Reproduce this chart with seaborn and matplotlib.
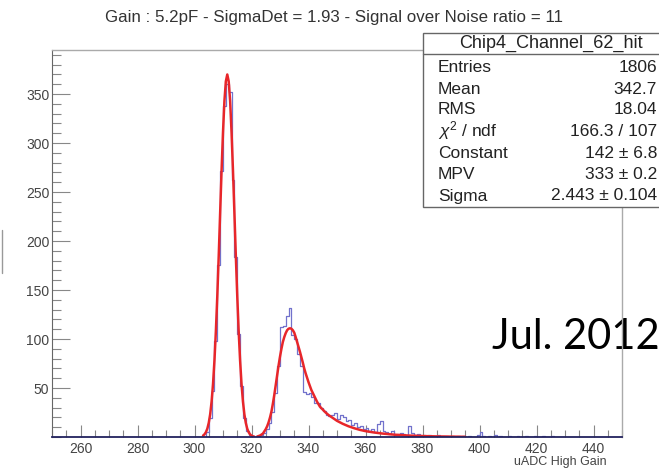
import numpy as np
import pandas as pd
import matplotlib
matplotlib.use("Agg")
import matplotlib.pyplot as plt
import seaborn as sns
from matplotlib.patches import Rectangle
from matplotlib.lines import Line2D
from matplotlib.ticker import MultipleLocator

# histogram contents, one bin per ADC count starting at 300
bin_start = 300
counts = [
    0, 0, 0, 0, 5, 19, 47, 98, 176, 271,          # 300-309
    338, 360, 352, 262, 184, 105, 52, 19, 6, 2,    # 310-319
    1, 0, 1, 2, 4, 8, 14, 26, 45, 72,              # 320-329
    112, 113, 123, 132, 104, 100, 85, 72, 46, 44,  # 330-339
    45, 41, 35, 35, 30, 27, 22, 21, 22, 24,        # 340-349
    18, 22, 20, 16, 17, 12, 14, 10, 11, 8,         # 350-359
    9, 6, 8, 5, 13, 16, 6, 5, 3, 6,                # 360-369
    2, 3, 4, 3, 2, 11, 4, 2, 3, 1,                 # 370-379
    2, 1, 2, 1, 1, 2, 0, 1, 1, 0,                  # 380-389
    1, 0, 1, 0, 1, 0, 1, 0, 0, 2,                  # 390-399
    5, 1, 0, 1, 0, 2, 0, 1, 0, 0,                  # 400-409
    1, 0, 0, 1, 0, 0, 1, 0, 0, 1,                  # 410-419
    0, 0, 1, 0, 0, 1, 0, 0, 0, 0,                  # 420-429
]

# pedestal gaussian fit
gaus_x = [303, 303.5, 304, 304.5, 305, 305.5, 306, 306.5, 307, 307.5, 308, 308.5,
          309, 309.5, 310, 310.5, 311, 311.5, 312, 312.5, 313, 313.5, 314, 314.5,
          315, 315.5, 316, 316.5, 317, 317.5, 318, 318.5, 319, 319.5, 320, 320.5, 321]
gaus_y = [1.4, 2.7, 4.9, 8.5, 14.4, 23.2, 36.2, 54.1, 78, 108, 144, 185,
          229, 272, 311, 343, 363, 370, 363, 343, 311, 272, 229, 185,
          144, 108, 78, 54.1, 36.2, 23.2, 14.4, 8.5, 4.9, 2.7, 1.4, 0.7, 0.3]

# landau fit of the signal peak
landau_x = [322, 323, 324, 325, 325.5, 326, 326.5, 327, 327.5, 328, 328.5, 329, 329.5,
            330, 330.5, 331, 331.5, 332, 332.5, 333, 333.5, 334, 334.5, 335, 335.5,
            336, 337, 338, 338.5, 339, 340, 341, 342, 343, 344, 345, 346, 347, 348,
            350, 352, 354, 356, 358, 360, 363, 366, 370, 375, 380, 385, 390, 395]
landau_y = [0.5, 1.5, 3.5, 8, 11, 15, 20, 26, 34, 43, 53, 63, 73,
            82, 90, 97, 102, 106, 109, 110.5, 111, 110.5, 109, 106.5, 102,
            97, 87, 76, 70, 65, 56, 48, 42, 36, 31, 28, 25, 22.5, 20.5,
            16.5, 13.5, 11, 9, 7.3, 6, 4.6, 3.5, 2.4, 1.5, 1.0, 0.6, 0.4, 0.2]

title = "Gain : 5.2pF - SigmaDet = 1.93 - Signal over Noise ratio = 11"
stats_name = "Chip4_Channel_62_hit"
stats_labels = ["Entries", "Mean", "RMS", r"$\chi^2$ / ndf", "Constant", "MPV", "Sigma"]
stats_values = ["1806", "342.7", "18.04", "166.3 / 107", "142 ± 6.8", "333 ± 0.2", "2.443 ± 0.104"]

hist_df = pd.DataFrame({
    'adc': np.arange(bin_start, bin_start + len(counts)) + 0.5,
    'n': counts,
})

sns.set_style("ticks")
plt.rcParams['font.family'] = ['Liberation Sans', 'DejaVu Sans']
plt.rcParams['mathtext.fontset'] = 'custom'
plt.rcParams['mathtext.it'] = 'Liberation Sans:italic'
plt.rcParams['mathtext.rm'] = 'Liberation Sans'

W, H = 659, 469
fig = plt.figure(figsize=(W / 100, H / 100), dpi=100)
fig.patch.set_facecolor('white')
ax = fig.add_axes([52 / W, 1 - 437 / H, 570 / W, 387 / H])
ax.patch.set_alpha(0)

sns.histplot(data=hist_df, x='adc', weights='n', binwidth=1,
             binrange=(bin_start, bin_start + len(counts)), element='step', fill=False,
             color='#7272cc', linewidth=0.9, ax=ax)
sns.lineplot(x=gaus_x, y=gaus_y, color='#e8262a', linewidth=1.8, ax=ax)
sns.lineplot(x=landau_x, y=landau_y, color='#e8262a', linewidth=1.8, ax=ax)

ax.set_xlim(250, 450)
ax.set_ylim(0, 395)
ax.set_xticks(range(260, 441, 20))
ax.set_yticks(range(50, 351, 50))
ax.xaxis.set_minor_locator(MultipleLocator(5))
ax.yaxis.set_minor_locator(MultipleLocator(10))
ax.set_xlabel('')
ax.set_ylabel('')

ax.tick_params(axis='both', which='both', direction='in', colors='#888888',
               labelcolor='#444444', labelsize=10)
ax.tick_params(axis='y', which='major', length=13, width=0.8, pad=2)
ax.tick_params(axis='y', which='minor', length=6.5, width=0.8)
ax.tick_params(axis='x', which='major', length=8.5, width=0.8, pad=3.5)
ax.tick_params(axis='x', which='minor', length=5, width=0.8)

for side in ['top', 'right']:
    ax.spines[side].set_visible(True)
    ax.spines[side].set_color('#aaaaaa')
    ax.spines[side].set_linewidth(1)
ax.spines['left'].set_color('#666666')
ax.spines['bottom'].set_color('#22225e')
ax.spines['bottom'].set_linewidth(1.3)

fig.text(334 / W, 1 - 17.5 / H, title, ha='center', va='center', fontsize=12.2, color='#333333')
fig.text(607 / W, 1 - 462 / H, 'uADC High Gain', ha='right', va='center', fontsize=9, color='#444444')

# small grey bracket at the left edge
fig.add_artist(Line2D([1.5 / W, 1.5 / W], [1 - 230 / H, 1 - 273 / H], transform=fig.transFigure,
                      color='#999999', linewidth=1))

# stats box
box = Rectangle((423 / W, 1 - 207 / H), 300 / W, 174 / H, transform=fig.transFigure,
                facecolor='white', edgecolor='#666666', linewidth=1, zorder=5)
fig.add_artist(box)
fig.add_artist(Line2D([423 / W, 1.2], [1 - 54 / H, 1 - 54 / H], transform=fig.transFigure,
                      color='#666666', linewidth=1, zorder=6))
fig.text(551 / W, 1 - 43 / H, stats_name, ha='center', va='center', fontsize=13,
         color='#222222', zorder=7)
row_y = [67, 89, 110, 131, 153, 174, 196]
for lab, val, y in zip(stats_labels, stats_values, row_y):
    fig.text(438 / W, 1 - y / H, lab, ha='left', va='center', fontsize=12.5, color='#222222', zorder=7)
    fig.text(657 / W, 1 - y / H, val, ha='right', va='center', fontsize=12.5, color='#222222', zorder=7)

fig.text(492 / W, 1 - 337 / H, 'Jul. 2012', ha='left', va='center', fontsize=30,
         family='Lato', color='black', zorder=-1)

fig.savefig('out.png', dpi=100)
